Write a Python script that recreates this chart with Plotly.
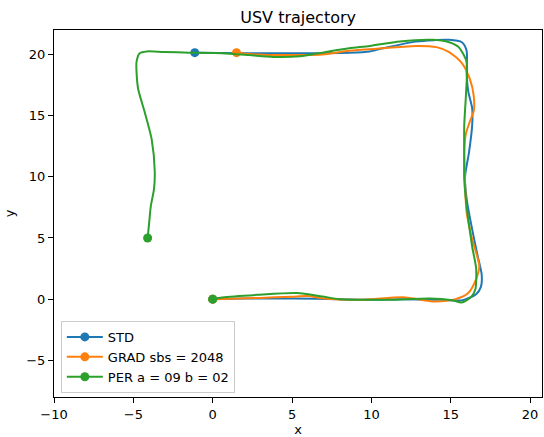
import plotly.graph_objects as go

# STD trajectory
std_x = [0, 2, 5, 8, 10, 12, 14.4, 15.7, 16.6, 16.9, 16.95, 16.7, 16.35, 16.0, 15.9, 16.15, 16.35, 16.35,
         16.1, 16.0, 16.0, 15.7, 14.9, 12.8, 10.7, 9.9, 8.6, 5, 2, -1.13]
std_y = [0, 0.05, 0.05, 0.0, -0.05, 0.0, -0.05, -0.1, 0.4, 1.0, 2.0, 3.5, 5.7, 8.2, 10, 12, 14.2, 15.6,
         17, 18.5, 20.3, 21.0, 21.2, 21.05, 20.5, 20.25, 20.15, 20.1, 20.1, 20.15]

# GRAD trajectory
grad_x = [0, 3, 5, 6, 7, 9.5, 12, 14.0, 15.3, 16.1, 16.6, 16.8, 16.35, 16.0, 15.9, 15.85, 15.95, 16.2,
          16.45, 16.45, 16.2, 15.7, 14.9, 14.1, 12.8, 10.7, 8.6, 6.9, 4.8, 2.8, 1.5]
grad_y = [0, 0.1, 0.2, 0.25, 0.05, -0.05, 0.15, -0.2, 0.0, 0.5, 1.64, 2.7, 4.9, 7.1, 9.5, 12, 13.5, 14.5,
          15.4, 16.6, 18.0, 19.3, 20.2, 20.6, 20.7, 20.5, 20.3, 20.0, 19.95, 20.0, 20.15]

# PER trajectory
per_x = [0, 0.6, 2.8, 5.3, 6.9, 8.0, 11.1, 13.7, 15.1, 15.7, 16.3, 16.55, 16.6, 16.35, 16.0, 15.85, 15.85,
         15.85, 15.97, 16.0, 15.5, 14.9, 13.8, 11.8, 9.9, 8.6, 6.9, 5.5, 3.8, 2.3, 0.6, -1.45, -3.1, -4.15,
         -4.6, -4.8, -4.8, -4.7, -4.3, -3.85, -3.65, -3.7, -3.9, -4.0, -4.1]
per_y = [0, 0.14, 0.35, 0.5, 0.22, 0.0, -0.05, 0.05, -0.1, -0.27, 0.2, 0.8, 2.5, 4.3, 7.6, 9.8, 11.5,
         14.2, 17.0, 19.4, 20.6, 21.0, 21.2, 21.07, 20.7, 20.5, 20.15, 19.85, 19.8, 19.95, 20.1, 20.15, 20.2, 20.25,
         20.1, 19.4, 18.6, 17.2, 15.35, 13.1, 10.4, 9.0, 7.6, 6.3, 5.0]

series = [
    ("STD", std_x, std_y, "#1f77b4"),
    ("GRAD sbs = 2048", grad_x, grad_y, "#ff7f0e"),
    ("PER a = 09 b = 02", per_x, per_y, "#2ca02c"),
]

FONT = "DejaVu Sans"
fig = go.Figure()
for name, xs, ys, col in series:
    fig.add_trace(go.Scatter(x=xs, y=ys, mode="lines", line=dict(color=col, width=2, shape="spline", smoothing=0.7),
                             showlegend=False, hoverinfo="skip"))
    fig.add_trace(go.Scatter(x=[xs[0], xs[-1]], y=[ys[0], ys[-1]], mode="markers",
                             marker=dict(color=col, size=9), showlegend=False))
    fig.add_trace(go.Scatter(x=[None], y=[None], mode="lines+markers", name=name,
                             line=dict(color=col, width=2), marker=dict(color=col, size=9)))

axis_common = dict(showline=True, linecolor="black", linewidth=1, mirror=True, ticks="outside", ticklen=5,
                   tickcolor="black", showgrid=False, zeroline=False,
                   tickfont=dict(family=FONT, size=13, color="black"))
fig.update_layout(
    width=544, height=437,
    margin=dict(l=54, r=2, t=30, b=40),
    plot_bgcolor="white", paper_bgcolor="white",
    font=dict(family=FONT, size=13, color="black"),
    title=dict(text="USV trajectory", x=0.548, xanchor="center", y=1 - 17 / 437, yanchor="middle",
               yref="container", font=dict(family=FONT, size=16, color="black")),
    xaxis=dict(range=[-10, 20.75], tickvals=[-10, -5, 0, 5, 10, 15, 20],
               title=dict(text="x", standoff=4, font=dict(family=FONT, size=13)), **axis_common),
    yaxis=dict(range=[-8, 22], tickvals=[-5, 0, 5, 10, 15, 20],
               title=dict(text="y", standoff=8, font=dict(family=FONT, size=13)), **axis_common),
    legend=dict(x=0.014, y=0.011, xanchor="left", yanchor="bottom", bordercolor="#cccccc", borderwidth=1,
                bgcolor="rgba(255,255,255,0.8)", font=dict(family=FONT, size=13), tracegroupgap=0,
                itemwidth=36),
)
fig.write_html("out.html", config={"displayModeBar": False},
               post_script="document.body.style.margin='0';document.body.style.padding='0';")
